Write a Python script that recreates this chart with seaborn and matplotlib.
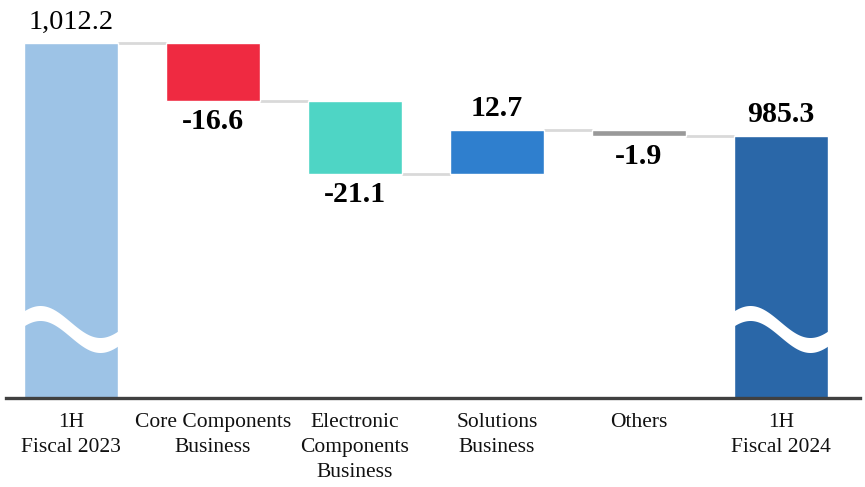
import numpy as np
import matplotlib
matplotlib.use("Agg")
import matplotlib.pyplot as plt
import seaborn as sns

# Chart data
categories = ["1H\nFiscal 2023", "Core Components\nBusiness", "Electronic\nComponents\nBusiness",
              "Solutions\nBusiness", "Others", "1H\nFiscal 2024"]
values = [1012.2, -16.6, -21.1, 12.7, -1.9, 985.3]
is_total = [True, False, False, False, False, True]
value_labels = ["1,012.2", "-16.6", "-21.1", "12.7", "-1.9", "985.3"]
colors = ["#9DC3E6", "#EF2A41", "#4ED5C5", "#2F7FCE", "#999999", "#2A67A8"]

sns.set_theme(style="white")
plt.rcParams['font.family'] = ['Liberation Serif', 'DejaVu Serif']

fig = plt.figure(figsize=(8.65, 4.87), dpi=100)
ax = fig.add_axes([6 / 865, 89 / 487, 854 / 865, 398 / 487])

# waterfall bottoms / tops
bottoms, tops = [], []
running = 0.0
for v, tot in zip(values, is_total):
    if tot:
        bottoms.append(0.0)
        tops.append(v)
        running = v
    else:
        new = running + v
        bottoms.append(min(running, new))
        tops.append(max(running, new))
        running = new

x = np.arange(len(categories))
width = 0.662
heights = [t - b for t, b in zip(tops, bottoms)]
ax.bar(x, heights, width, bottom=bottoms, color=colors, zorder=2)

# connector lines between bars
levels = []
running = 0.0
for v, tot in zip(values, is_total):
    running = v if tot else running + v
    levels.append(running)
for i in range(len(x) - 1):
    ax.plot([x[i] + width / 2, x[i + 1] - width / 2], [levels[i], levels[i]],
            color="#D9D9D9", lw=2, zorder=1, solid_capstyle="butt")

ax.set_xlim(-0.458, 5.556)
ax.set_ylim(910, 1024.6)

# axis-break wave on the total bars
px_per_unit = 142.0
for i, tot in enumerate(is_total):
    if not tot:
        continue
    left = x[i] - width / 2
    dx = np.linspace(-4, width * px_per_unit + 4, 200)
    yc = 329 - 16 * np.cos(2 * np.pi * (dx - 16) / 120)
    lo = (398 - (yc + 7.5)) / 398
    hi = (398 - (yc - 7.5)) / 398
    ax.fill_between(left + dx / px_per_unit, lo, hi, color="white",
                    transform=ax.get_xaxis_transform(), zorder=3, lw=0)

# value labels
for i in range(len(x)):
    up = is_total[i] or values[i] > 0
    if up:
        ax.annotate(value_labels[i], (x[i], tops[i]), xytext=(0, 6), textcoords="offset points",
                    ha="center", va="bottom", fontsize=20.5 if i == 0 else 21.5,
                    fontweight="normal" if i == 0 else "bold", color="black")
    else:
        ax.annotate(value_labels[i], (x[i], bottoms[i]), xytext=(0, -5), textcoords="offset points",
                    ha="center", va="top", fontsize=21.5, fontweight="bold", color="black")

ax.set_xticks(x)
ax.set_xticklabels(categories, fontsize=15.5, linespacing=1.42, color="#111111", va="top")
ax.tick_params(axis="x", length=0, pad=11)
ax.set_yticks([])
for s in ["top", "left", "right"]:
    ax.spines[s].set_visible(False)
ax.spines["bottom"].set_color("#404040")
ax.spines["bottom"].set_linewidth(2.4)
ax.spines["bottom"].set_zorder(4)

fig.savefig("out.png", dpi=100)
